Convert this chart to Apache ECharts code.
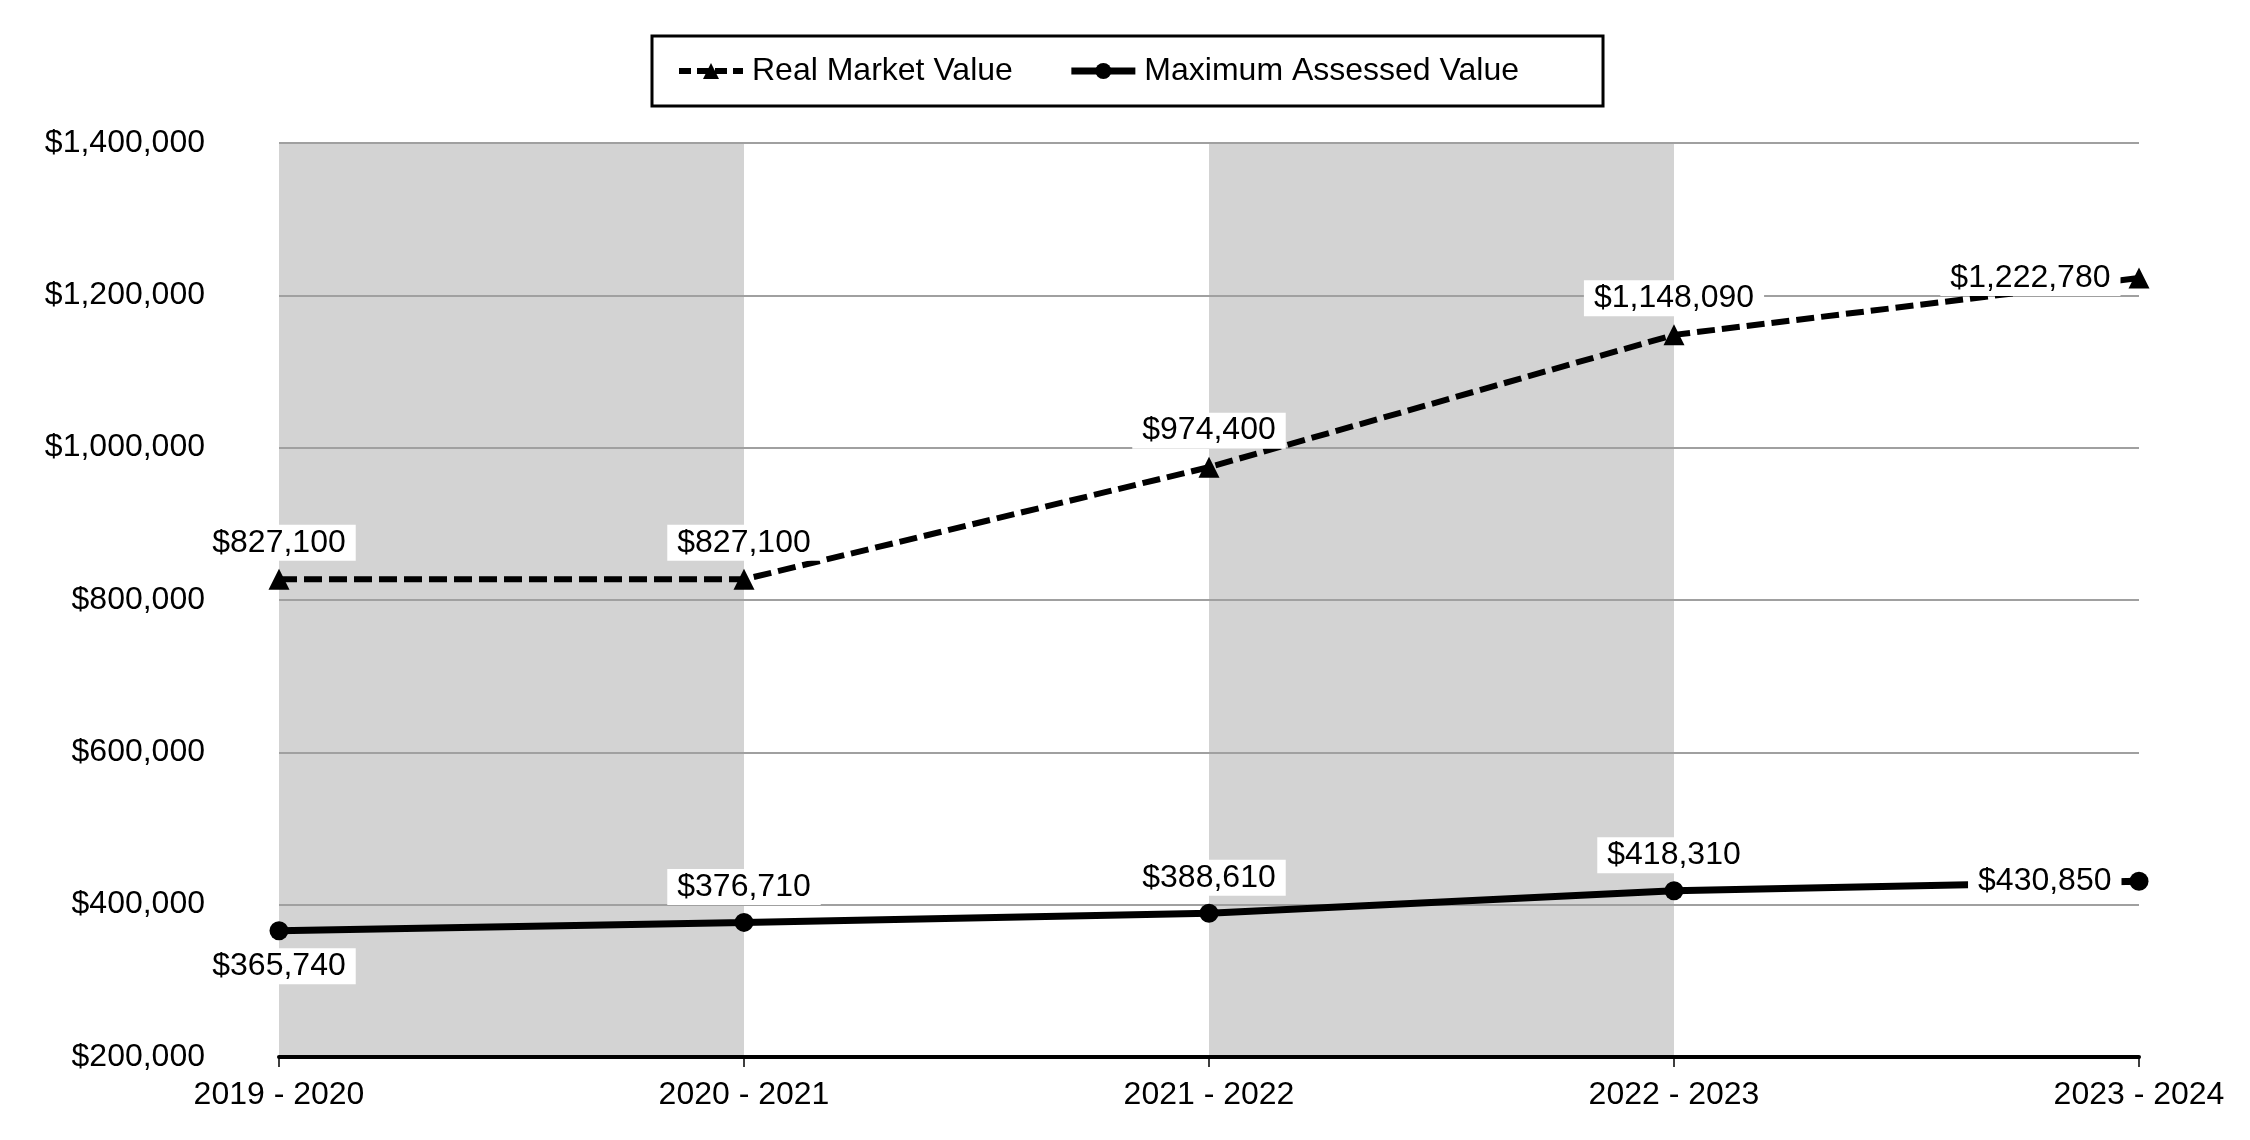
<!DOCTYPE html>
<html>
<head>
<meta charset="utf-8">
<script src="https://cdn.jsdelivr.net/npm/echarts@6/dist/echarts.min.js"></script>
<style>
html,body{margin:0;padding:0;background:#fff;}
#chart{width:2250px;height:1140px;}
</style>
</head>
<body>
<div id="chart"></div>
<script>
const categories = ['2019 - 2020', '2020 - 2021', '2021 - 2022', '2022 - 2023', '2023 - 2024'];
const realMarketValue = [827100, 827100, 974400, 1148090, 1222780];
const maxAssessedValue = [365740, 376710, 388610, 418310, 430850];
const seriesNames = ['Real Market Value', 'Maximum Assessed Value'];
const yMin = 200000, yMax = 1400000, yInterval = 200000;

const FONT = '"Liberation Sans", Arial, sans-serif';
function money(v) { return '$' + Math.round(v).toLocaleString('en-US'); }

const labelBase = {
  show: true,
  fontFamily: FONT,
  fontSize: 32,
  color: '#000',
  backgroundColor: '#fff',
  padding: [2, 10, 2, 10],
  formatter: p => money(p.value)
};

function rmvData() {
  return realMarketValue.map((v, i) => {
    const last = i === realMarketValue.length - 1;
    return { value: v, label: last ? { position: 'left', distance: 8 } : { position: 'top', distance: 8 } };
  });
}
function mavData() {
  return maxAssessedValue.map((v, i) => {
    const last = i === maxAssessedValue.length - 1;
    const pos = i === 0 ? 'bottom' : (last ? 'left' : 'top');
    return { value: v, label: { position: pos, distance: 8 } };
  });
}

const chart = echarts.init(document.getElementById('chart'), null, { renderer: 'canvas' });
chart.setOption({
  animation: false,
  backgroundColor: '#fff',
  textStyle: { fontFamily: FONT },
  legend: {
    top: 36,
    left: 652,
    data: [
      { name: seriesNames[0], lineStyle: { width: 6, type: [12, 6] } },
      { name: seriesNames[1], lineStyle: { width: 7 } }
    ],
    borderColor: '#000',
    borderWidth: 3,
    padding: [19, 84, 19, 24],
    itemWidth: 64,
    itemHeight: 20,
    itemGap: 55,
    textStyle: { fontFamily: FONT, fontSize: 32, color: '#000', padding: [0, 0, 0, 4] }
  },
  grid: { left: 279, right: 111, top: 143, bottom: 83, containLabel: false },
  xAxis: [
    {
      type: 'category',
      data: categories,
      boundaryGap: false,
      axisLine: { show: false },
      axisTick: { show: false },
      axisLabel: { show: false },
      splitLine: { show: false },
      splitArea: { show: true, areaStyle: { color: ['#d3d3d3', '#ffffff'] } },
      z: 0
    },
    {
      type: 'category',
      data: categories,
      position: 'bottom',
      boundaryGap: false,
      axisLine: { show: true, onZero: false, lineStyle: { color: '#000', width: 4 } },
      axisTick: { show: true, length: 10, lineStyle: { color: '#000', width: 1.5 } },
      axisLabel: { fontFamily: FONT, fontSize: 32, color: '#000', margin: 22 },
      splitLine: { show: false },
      splitArea: { show: false },
      z: 2
    }
  ],
  yAxis: {
    type: 'value',
    min: yMin,
    max: yMax,
    interval: yInterval,
    axisLine: { show: false },
    axisTick: { show: false },
    axisLabel: { fontFamily: FONT, fontSize: 32, color: '#000', margin: 74, formatter: v => money(v) },
    splitLine: { show: true, lineStyle: { color: '#a0a0a0', width: 2 } },
    z: 1
  },
  series: [
    {
      name: seriesNames[0],
      type: 'line',
      xAxisIndex: 0,
      data: rmvData(),
      symbol: 'triangle',
      symbolSize: 21,
      lineStyle: { color: '#000', width: 6, type: [18, 7] },
      itemStyle: { color: '#000' },
      label: labelBase,
      z: 3
    },
    {
      name: seriesNames[1],
      type: 'line',
      xAxisIndex: 0,
      data: mavData(),
      symbol: 'circle',
      symbolSize: 19,
      lineStyle: { color: '#000', width: 7 },
      itemStyle: { color: '#000' },
      label: labelBase,
      z: 3
    }
  ]
});
</script>
</body>
</html>
